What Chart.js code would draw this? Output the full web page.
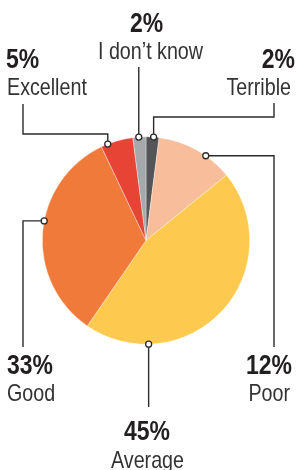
<!DOCTYPE html>
<html>
<head>
<meta charset="utf-8">
<script src="https://cdn.jsdelivr.net/npm/chart.js@4/dist/chart.umd.min.js"></script>
<style>
  html, body { margin: 0; padding: 0; background: #fff; }
  #wrap { width: 297px; height: 470px; position: relative; }
</style>
</head>
<body>
<div id="wrap"><canvas id="pie"></canvas></div>
<script>
// Dados do gráfico (sentido horário a partir do topo)
const categories = ["Terrible", "Poor", "Average", "Good", "Excellent", "I don\u2019t know"];
const shares = [2, 12, 45, 33, 5, 2];
const sliceColors = ["#545557", "#f8bd9b", "#fdca4f", "#ef7a3a", "#e84436", "#a7a8ab"];

const face = '"Liberation Sans", Arial, sans-serif';
const squeeze = 0.82; // letra estreita, como Arial Narrow

// Onde fica o ponto em cada fatia (fração do arco) e o caminho da linha até o texto
const callouts = [
  { f: 0.58, path: [["v", 117], ["h", 274], ["v", 103]], align: "right", x: 295, yPct: 68, xLab: 291, yLab: 95 },
  { f: 0.64, path: [["h", 274], ["v", 347]], align: "right", x: 292, yPct: 374, xLab: 290, yLab: 401 },
  { f: 0.78, path: [["v", 407]], align: "center", x: 147, yPct: 440, xLab: 147.5, yLab: 468 },
  { f: 0.553, path: [["h", 23], ["v", 347]], align: "left", x: 7, yPct: 374, xLab: 7, yLab: 401 },
  { f: 0.21, path: [["v", 134], ["h", 23], ["v", 104]], align: "left", x: 6, yPct: 68, xLab: 7, yLab: 95 },
  { f: 0.45, path: [["v", 67]], align: "center", x: 146.5, yPct: 32, xLab: 150.5, yLab: 59 }
];

function narrowText(ctx, text, x, y) {
  ctx.save();
  ctx.translate(x, y);
  ctx.scale(squeeze, 1);
  ctx.fillText(text, 0, 0);
  ctx.restore();
}

// Plugin que desenha as linhas, os pontos e os rótulos
const calloutPlugin = {
  id: "callouts",
  afterDraw(chart) {
    const ctx = chart.ctx;
    const arcs = chart.getDatasetMeta(0).data;
    ctx.save();
    arcs.forEach((arc, i) => {
      const c = callouts[i];
      const p = arc.getProps(["x", "y", "startAngle", "endAngle", "outerRadius"], true);
      const a = p.startAngle + c.f * (p.endAngle - p.startAngle);
      const dx = p.x + Math.cos(a) * p.outerRadius;
      const dy = p.y + Math.sin(a) * p.outerRadius;

      ctx.strokeStyle = "#2b2b2b";
      ctx.lineWidth = 1.4;
      ctx.beginPath();
      let cx = dx, cy = dy;
      ctx.moveTo(cx, cy);
      c.path.forEach(step => {
        if (step[0] === "v") cy = step[1]; else cx = step[1];
        ctx.lineTo(cx, cy);
      });
      ctx.stroke();

      ctx.beginPath();
      ctx.arc(dx, dy, 3, 0, Math.PI * 2);
      ctx.fillStyle = "#fff";
      ctx.fill();
      ctx.lineWidth = 1.3;
      ctx.stroke();

      ctx.textAlign = c.align;
      ctx.textBaseline = "alphabetic";
      ctx.fillStyle = "#231f20";
      ctx.font = "bold 28px " + face;
      narrowText(ctx, shares[i] + "%", c.x, c.yPct);
      ctx.fillStyle = "#333";
      ctx.font = "24px " + face;
      narrowText(ctx, categories[i], c.xLab, c.yLab);
    });
    ctx.restore();
  }
};

new Chart(document.getElementById("pie"), {
  type: "pie",
  data: {
    labels: categories,
    datasets: [{
      data: shares,
      backgroundColor: sliceColors,
      borderColor: "rgba(255,255,255,0.6)",
      borderWidth: 0.6
    }]
  },
  options: {
    responsive: true,
    maintainAspectRatio: false,
    animation: false,
    layout: { padding: { left: 42, right: 47, top: 136.5, bottom: 125.5 } },
    plugins: { legend: { display: false }, tooltip: { enabled: false } }
  },
  plugins: [calloutPlugin]
});
</script>
</body>
</html>
